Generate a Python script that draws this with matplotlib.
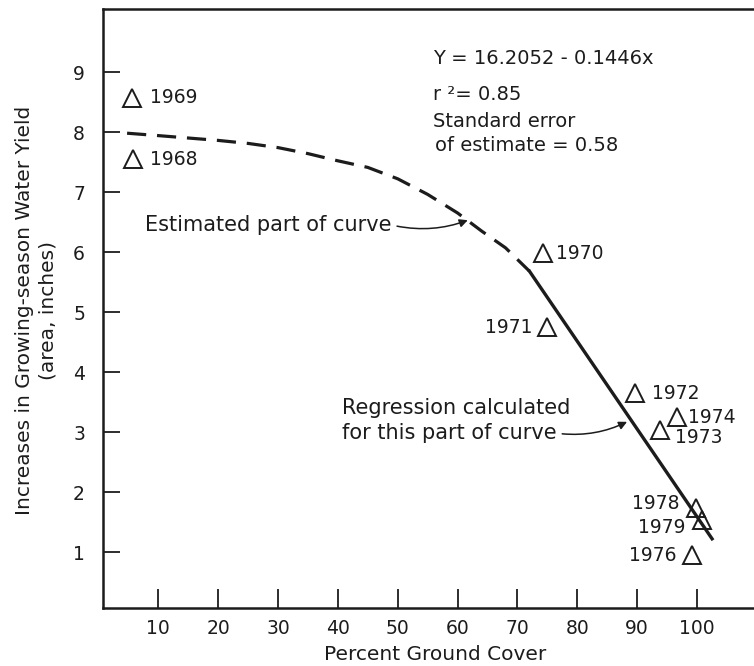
import matplotlib
matplotlib.use("Agg")
import matplotlib.pyplot as plt

# observed points
years = ["1968", "1969", "1970", "1971", "1972", "1973", "1974", "1976", "1978", "1979"]
cover = [5.8, 5.6, 74.2, 74.9, 89.6, 93.8, 96.6, 99.1, 99.8, 100.8]
water = [7.55, 8.57, 5.98, 4.75, 3.65, 3.03, 3.25, 0.95, 1.73, 1.53]

# curve
est_x = [4.8, 10, 15, 20, 25, 30, 35, 40, 45, 50, 55, 60, 64, 68, 72]
est_y = [7.98, 7.94, 7.90, 7.86, 7.81, 7.74, 7.64, 7.52, 7.41, 7.22, 6.96, 6.65, 6.35, 6.07, 5.68]
reg_x = [72, 102.5]
reg_y = [5.68, 1.22]

x_ticks = [10, 20, 30, 40, 50, 60, 70, 80, 90, 100]
y_ticks = [1, 2, 3, 4, 5, 6, 7, 8, 9]

# label placement (pixel offsets from the marker)
label_pos = {
    "1968": (17, 0, "left"), "1969": (18, 0, "left"), "1970": (13, 0, "left"),
    "1971": (-14, 0, "right"), "1972": (17, 0, "left"), "1973": (15, -7, "left"),
    "1974": (11, 0, "left"), "1976": (-15, 0, "right"), "1978": (-16, 5, "right"),
    "1979": (-16, -7, "right"),
}

ink = "#1c1c1c"
plt.rcParams["font.family"] = ["DejaVu Sans"]

fig = plt.figure(figsize=(7.54, 6.66), dpi=100)
ax = fig.add_axes([103 / 754, 1 - 608 / 666, 1 - 103 / 754, (608 - 9) / 666])
ax.set_xlim(0.78, 109.5)
ax.set_ylim(0.067, 10.05)

ax.plot(est_x, est_y, color=ink, lw=2.3, linestyle=(0, (6, 3.4)), solid_capstyle="butt")
ax.plot(reg_x, reg_y, color=ink, lw=2.4)
ax.plot(cover, water, linestyle="none", marker="^", ms=12.5, mfc="none", mec=ink, mew=1.4)

for yr, cx, wy in zip(years, cover, water):
    dx, dy, ha = label_pos[yr]
    ax.annotate(yr, (cx, wy), xytext=(dx, dy), textcoords="offset pixels",
                ha=ha, va="center", fontsize=13.5, color=ink)

# regression statistics
ax.text(55.9, 9.22, "Y = 16.2052 - 0.1446x", fontsize=14, color=ink, va="center")
ax.text(55.9, 8.62, "r ²= 0.85", fontsize=14, color=ink, va="center")
ax.text(55.9, 8.18, "Standard error", fontsize=14, color=ink, va="center")
ax.text(56.3, 7.78, "of estimate = 0.58", fontsize=14, color=ink, va="center")

# callouts, arrow leaves from the end of the text
arrow = dict(arrowstyle="-|>", color=ink, lw=1.1, mutation_scale=12, relpos=(1, 0.5),
             connectionstyle="arc3,rad=0.15", shrinkA=2, shrinkB=0)
ax.annotate("Estimated part of curve", xy=(61.7, 6.53), xytext=(7.8, 6.45),
            fontsize=15, color=ink, ha="left", va="center", arrowprops=arrow)
ax.text(40.7, 3.4, "Regression calculated", fontsize=15, color=ink, va="center")
ax.annotate("for this part of curve", xy=(88.3, 3.17), xytext=(40.7, 2.98),
            fontsize=15, color=ink, ha="left", va="center", arrowprops=arrow)

ax.set_xticks(x_ticks)
ax.set_yticks(y_ticks)
ax.tick_params(axis="x", direction="in", length=13.5, width=1.3, pad=8, labelsize=13.5, colors=ink)
ax.tick_params(axis="y", direction="in", length=12, width=1.3, pad=13, labelsize=13.5, colors=ink)
ax.spines["right"].set_visible(False)
for side in ["left", "bottom", "top"]:
    ax.spines[side].set_linewidth(1.8)
    ax.spines[side].set_color(ink)

fig.text(435 / 754, 1 - 655 / 666, "Percent Ground Cover", ha="center", va="center",
         fontsize=14.5, color=ink)
fig.text(36.5 / 754, 1 - 310 / 666, "Increases in Growing-season Water Yield\n(area, inches)",
         rotation=90, ha="center", va="center", multialignment="center",
         linespacing=1.3, fontsize=14.5, color=ink)

fig.savefig("out.png", dpi=100)
